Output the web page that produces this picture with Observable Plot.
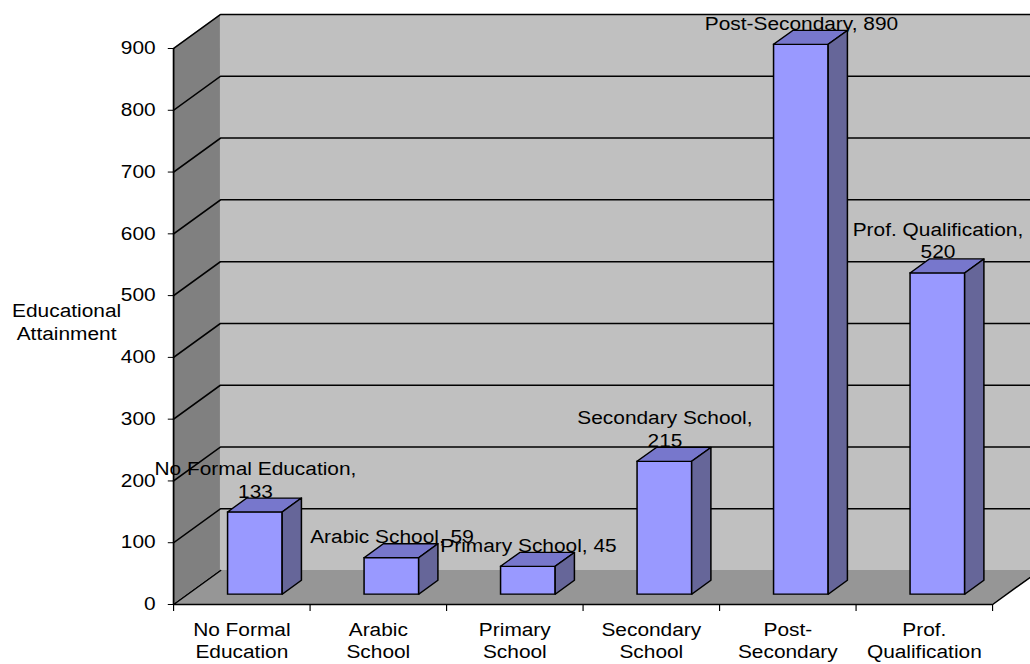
<!DOCTYPE html>
<html>
<head>
<meta charset="utf-8">
<script src="https://cdn.jsdelivr.net/npm/d3@7"></script>
<script src="https://cdn.jsdelivr.net/npm/@observablehq/plot@0.6"></script>
<style>
  html, body { margin: 0; padding: 0; background: #fff; overflow: hidden; }
  #chart svg { display: block; transform-origin: 0 0; }
</style>
</head>
<body>
<div id="chart"></div>
<script>
// ---- data ----
const categories = ["No Formal Education", "Arabic School", "Primary School", "Secondary School", "Post-Secondary", "Prof. Qualification"];
const values = [133, 59, 45, 215, 890, 520];
const wrapLabel = [true, false, false, true, false, true];
const tickLabels = ["No Formal\nEducation", "Arabic\nSchool", "Primary\nSchool", "Secondary\nSchool", "Post-\nSecondary", "Prof.\nQualification"];
const yTicks = [0, 100, 200, 300, 400, 500, 600, 700, 800, 900];
const yTitle = "Educational\nAttainment";

// ---- layout ----
// The chart is laid out in a narrower frame, then stretched horizontally.
const STRETCH = 1.16;
const PAGE_W = 1030, PAGE_H = 664;
const W = PAGE_W / STRETCH;

// 3-D box depth, in scale units (categories along x, values along y)
const N = categories.length;
const YMAX = 900;
const DX = 0.344, DY = 55;
const F0 = 0.29, F1 = 0.70;   // bars occupy this slice of the depth
const HALF = 0.2;             // half bar width, in categories

const bars = categories.map((name, i) => {
  const v = values[i];
  return {
    i, name, v,
    c: i + 0.5 + F0 * DX,
    label: `${name},${wrapLabel[i] ? "\n" : " "}${v}`
  };
});

const topFaces = bars.flatMap(b => [
  {i: b.i, y: b.v + F0 * DY, x1: b.c - HALF, x2: b.c + HALF},
  {i: b.i, y: b.v + F1 * DY, x1: b.c - HALF + (F1 - F0) * DX, x2: b.c + HALF + (F1 - F0) * DX}
]);
const sideFaces = bars.flatMap(b => [
  {i: b.i, x: b.c + HALF, y1: F0 * DY, y2: b.v + F0 * DY},
  {i: b.i, x: b.c + HALF + (F1 - F0) * DX, y1: F1 * DY, y2: b.v + F1 * DY}
]);

const gridLines = yTicks.filter(t => t > 0).flatMap(t => [
  {t, x: 0, y: t},
  {t, x: DX, y: t + DY},
  {t, x: N + DX, y: t + DY}
]);
const floorEdge = [
  {x: DX, y: DY}, {x: 0, y: 0}, {x: N, y: 0}, {x: N + DX, y: DY}
];

const ink = "#000";

const chart = Plot.plot({
  width: W,
  height: PAGE_H,
  marginLeft: 173 / STRETCH,
  marginRight: W - 992 / STRETCH,
  marginTop: 48,
  marginBottom: 60,
  style: {fontFamily: "'Liberation Sans', Arial, sans-serif", fontSize: "18px", background: "#fff", color: "#000"},
  x: {domain: [0, N]},
  y: {domain: [0, YMAX]},
  marks: [
    // walls and floor
    Plot.rect([{x1: DX, x2: N + DX, y1: DY, y2: YMAX + DY}], {x1: "x1", x2: "x2", y1: "y1", y2: "y2", fill: "#c0c0c0"}),
    Plot.areaY([{x: 0, y1: 0, y2: YMAX}, {x: DX, y1: DY, y2: YMAX + DY}], {x: "x", y1: "y1", y2: "y2", fill: "#808080"}),
    Plot.areaX([{y: 0, x1: 0, x2: N}, {y: DY, x1: DX, x2: N + DX}], {y: "y", x1: "x1", x2: "x2", fill: "#969696"}),
    // gridlines across the side and back walls
    Plot.line(gridLines, {x: "x", y: "y", z: "t", stroke: ink, strokeWidth: 1.5}),
    Plot.line(floorEdge, {x: "x", y: "y", stroke: ink, strokeWidth: 1.5}),
    Plot.ruleX([0], {y1: 0, y2: YMAX, stroke: ink, strokeWidth: 1.5}),
    // axes
    Plot.axisY({ticks: yTicks, tickSize: 4.5, tickPadding: 11, fontSize: 18, label: null}),
    Plot.axisX({ticks: d3.range(N + 1), tickSize: 7, tickFormat: () => "", label: null}),
    Plot.text(tickLabels, {x: (d, i) => i + 0.5, y: 0, text: d => d, lineAnchor: "top", lineHeight: 1.25, dy: 15.5, fontSize: 18, fill: ink}),
    Plot.text([yTitle], {frameAnchor: "left", text: d => d, dx: -107 / STRETCH, dy: -5, lineHeight: 1.25, textAnchor: "middle", fontSize: 18, fill: ink}),
    // value labels sit behind the bars
    Plot.text(bars, {x: "c", y: d => d.v + F1 * DY, text: "label", lineAnchor: "bottom", lineHeight: 1.25, dy: -1, fontSize: 18, fill: ink}),
    // bars: front, top, side
    Plot.rect(bars, {x1: d => d.c - HALF, x2: d => d.c + HALF, y1: F0 * DY, y2: d => d.v + F0 * DY, fill: "#9999ff", stroke: ink, strokeWidth: 1.3}),
    Plot.areaX(topFaces, {y: "y", x1: "x1", x2: "x2", z: "i", fill: "#7777cc", stroke: ink, strokeWidth: 1.3}),
    Plot.areaY(sideFaces, {x: "x", y1: "y1", y2: "y2", z: "i", fill: "#666699", stroke: ink, strokeWidth: 1.3})
  ]
});

chart.style.transform = `scaleX(${STRETCH})`;
chart.style.maxWidth = "none";
document.getElementById("chart").appendChild(chart);
</script>
</body>
</html>
